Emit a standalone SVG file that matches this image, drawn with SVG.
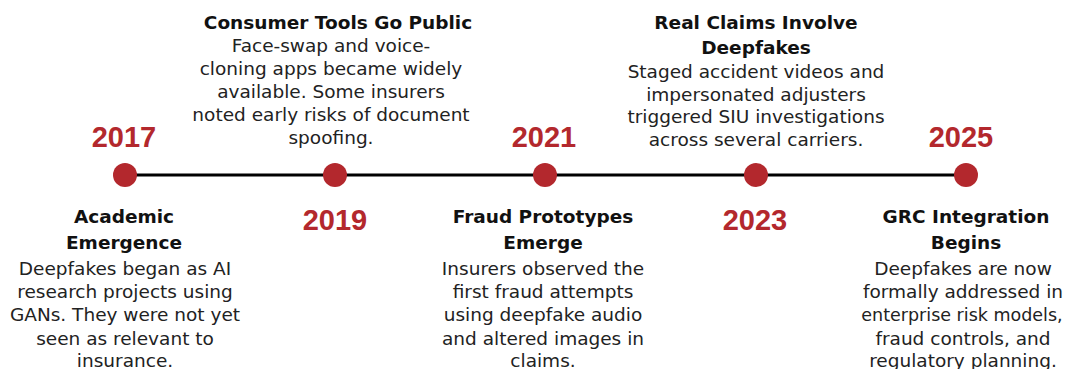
<svg xmlns="http://www.w3.org/2000/svg" width="1069" height="369" viewBox="0 0 1069 369">
  <style>
    .year  { font-family: "Liberation Sans", Arial, sans-serif; font-weight: bold; font-size: 29px; fill: #B3282D; text-anchor: middle; }
    .title { font-family: "DejaVu Sans", sans-serif; font-weight: bold; font-size: 18.5px; fill: #111; text-anchor: middle; }
    .body  { font-family: "DejaVu Sans", sans-serif; font-size: 18.5px; fill: #222; text-anchor: middle; }
    .tight { font-size: 17.5px; }
    .dot   { fill: #B3282D; }
  </style>
  <rect width="1069" height="369" fill="#fff"/>

  <!-- timeline axis -->
  <g id="connectors">
    <line x1="125" y1="175" x2="966" y2="175" stroke="#000" stroke-width="3"/>
  </g>

  <!-- 2017 -->
  <g id="node-2017">
    <circle class="dot" cx="125" cy="175" r="12"/>
    <text class="year" x="124" y="147">2017</text>
    <text class="title" x="124" y="223">Academic</text>
    <text class="title" x="124" y="249">Emergence</text>
    <text class="body" x="125" y="275">Deepfakes began as AI</text>
    <text class="body" x="125" y="298">research projects using</text>
    <text class="body" x="125" y="321">GANs. They were not yet</text>
    <text class="body" x="125" y="345">seen as relevant to</text>
    <text class="body" x="125" y="367">insurance.</text>
  </g>

  <!-- 2019 -->
  <g id="node-2019">
    <circle class="dot" cx="335" cy="175" r="12"/>
    <text class="year" x="335" y="230">2019</text>
    <text class="title" x="338" y="29">Consumer Tools Go Public</text>
    <text class="body" x="331" y="52">Face-swap and voice-</text>
    <text class="body" x="331" y="75">cloning apps became widely</text>
    <text class="body" x="331" y="98">available. Some insurers</text>
    <text class="body" x="331" y="121">noted early risks of document</text>
    <text class="body" x="331" y="144">spoofing.</text>
  </g>

  <!-- 2021 -->
  <g id="node-2021">
    <circle class="dot" cx="545" cy="175" r="12"/>
    <text class="year" x="544" y="147">2021</text>
    <text class="title" x="543" y="223">Fraud Prototypes</text>
    <text class="title" x="543" y="249">Emerge</text>
    <text class="body" x="543" y="275">Insurers observed the</text>
    <text class="body" x="543" y="298">first fraud attempts</text>
    <text class="body" x="543" y="321">using deepfake audio</text>
    <text class="body" x="543" y="345">and altered images in</text>
    <text class="body" x="543" y="367">claims.</text>
  </g>

  <!-- 2023 -->
  <g id="node-2023">
    <circle class="dot" cx="756" cy="175" r="12"/>
    <text class="year" x="755" y="230">2023</text>
    <text class="title" x="756" y="29">Real Claims Involve</text>
    <text class="title" x="756" y="54">Deepfakes</text>
    <text class="body" x="756" y="78">Staged accident videos and</text>
    <text class="body" x="756" y="101">impersonated adjusters</text>
    <text class="body" x="756" y="123">triggered SIU investigations</text>
    <text class="body" x="756" y="146">across several carriers.</text>
  </g>

  <!-- 2025 -->
  <g id="node-2025">
    <circle class="dot" cx="966" cy="175" r="12"/>
    <text class="year" x="961" y="147">2025</text>
    <text class="title" x="966" y="223">GRC Integration</text>
    <text class="title" x="966" y="249">Begins</text>
    <text class="body" x="963" y="275">Deepfakes are now</text>
    <text class="body" x="963" y="298">formally addressed in</text>
    <text class="body tight" x="962" y="321">enterprise risk models,</text>
    <text class="body" x="963" y="345">fraud controls, and</text>
    <text class="body" x="963" y="367">regulatory planning.</text>
  </g>
</svg>
